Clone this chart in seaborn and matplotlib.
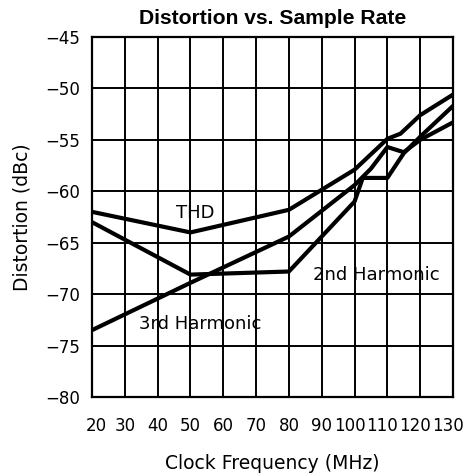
import matplotlib
matplotlib.use("Agg")
import matplotlib.pyplot as plt
import matplotlib.transforms as mtransforms
import seaborn as sns
import pandas as pd

# ---- data ----
thd_x = [20, 50, 80, 100, 110, 114, 120, 130]
thd_y = [-62.0, -64.0, -61.8, -57.9, -54.9, -54.4, -52.6, -50.6]

h2_x = [20, 50, 80, 100, 102.5, 110, 115, 120, 130]
h2_y = [-63.0, -68.1, -67.8, -61.0, -58.7, -58.7, -56.3, -54.7, -51.7]

h3_x = [20, 50, 80, 100, 105, 110, 115, 120, 130]
h3_y = [-73.5, -68.9, -64.4, -59.4, -57.8, -55.7, -56.2, -55.0, -53.3]

x_ticks = [20, 30, 40, 50, 60, 70, 80, 90, 100, 110, 120, 130]
y_ticks = [-80, -75, -70, -65, -60, -55, -50, -45]

series_names = ["THD", "2nd Harmonic", "3rd Harmonic"]
label_x = [51.4, 106.5, 52.9]
label_y = [-62.55, -68.6, -73.4]

title = "Distortion vs. Sample Rate"
xlabel = "Clock Frequency (MHz)"
ylabel = "Distortion (dBc)"

frames = []
for name, xs, ys in zip(series_names, [thd_x, h2_x, h3_x], [thd_y, h2_y, h3_y]):
    frames.append(pd.DataFrame({"freq": xs, "dist": ys, "series": name}))
df = pd.concat(frames, ignore_index=True)

sns.set_theme(style="white")
plt.rcParams["font.family"] = ["DejaVu Sans"]

W, H = 472, 476
fig = plt.figure(figsize=(W / 100, H / 100), dpi=100)
ax_l, ax_r, ax_t, ax_b = 92, 453, 37, 397
ax = fig.add_axes([ax_l / W, 1 - ax_b / H, (ax_r - ax_l) / W, (ax_b - ax_t) / H])

sns.lineplot(data=df, x="freq", y="dist", hue="series", units="series",
             estimator=None, sort=False,
             palette={n: "black" for n in series_names},
             linewidth=3.0, legend=False, ax=ax, zorder=3)

ax.set_xlim(20, 130)
ax.set_ylim(-80, -45)
ax.set_xticks(x_ticks)
ax.set_yticks(y_ticks)
ax.set_xticklabels([str(v) for v in x_ticks], fontsize=12, color="black")
ax.set_yticklabels([("\u2212" + str(abs(v))) for v in y_ticks], fontsize=12, color="black")
ax.tick_params(axis="x", length=0, pad=14.5)
ax.tick_params(axis="y", length=0, pad=8.5)

# small horizontal nudges of the x tick labels, as in the reference
for lab, v in zip(ax.get_xticklabels(), x_ticks):
    dx = 0
    if v == 20:
        dx = 4
    elif v >= 100:
        dx = -5
    if dx:
        lab.set_transform(lab.get_transform() +
                          mtransforms.ScaledTranslation(dx / 100, 0, fig.dpi_scale_trans))

ax.grid(True, color="black", linewidth=1.4)
for s in ax.spines.values():
    s.set_color("black")
    s.set_linewidth(1.6)
    s.set_visible(True)

ax.set_xlabel(xlabel, fontsize=13.5, color="black")
ax.xaxis.set_label_coords(0.5, -(454 - ax_b) / (ax_b - ax_t))
ax.xaxis.label.set_verticalalignment("top")
ax.set_ylabel(ylabel, fontsize=13.5, color="black")
ax.yaxis.set_label_coords(-(ax_l - 22) / (ax_r - ax_l), 0.5)
ax.yaxis.label.set_verticalalignment("center")

fig.text((ax_l + ax_r) / 2 / W, 1 - 23.5 / H, title, fontsize=15.2,
         fontweight="bold", family="Liberation Sans", color="black",
         ha="center", va="baseline")

for name, lx, ly in zip(series_names, label_x, label_y):
    ax.text(lx, ly, name, fontsize=13, ha="center", va="baseline",
            color="black", zorder=4)

fig.savefig("out.png", dpi=100)
